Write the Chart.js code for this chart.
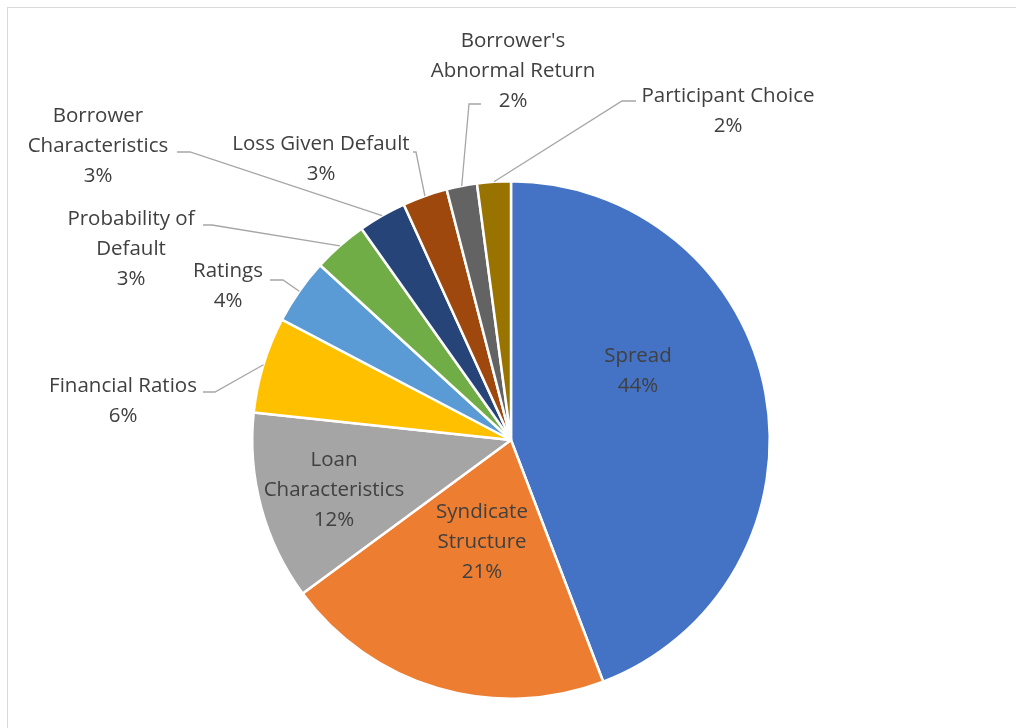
<!DOCTYPE html>
<html>
<head>
<meta charset="utf-8">
<script src="https://cdn.jsdelivr.net/npm/chart.js@4"></script>
<style>
  html, body { margin: 0; padding: 0; background: #fff; }
  #wrap { width: 1016px; height: 728px; position: relative; }
</style>
</head>
<body>
<div id="wrap"><canvas id="myChart" width="1016" height="728"></canvas></div>
<script>
// data
const categories = [
    ['Spread'], ['Syndicate', 'Structure'], ['Loan', 'Characteristics'], ['Financial Ratios'],
    ['Ratings'], ['Probability of', 'Default'], ['Borrower', 'Characteristics'],
    ['Loss Given Default'], ["Borrower's", 'Abnormal Return'], ['Participant Choice']
];
const shares = [44.2, 20.7, 11.8, 6.0, 4.1, 3.4, 3.0, 2.8, 1.9, 2.1];
const sliceColors = ['#4472c4', '#ed7d31', '#a5a5a5', '#ffc000', '#5b9bd5',
                     '#70ad47', '#264478', '#9e480e', '#636363', '#997300'];

// where each label block sits (centre x, first line y) and the leader elbow (null = inside)
const labelPos = [[638, 356], [482, 512], [334, 460], [123, 386], [228, 271],
                  [131, 219], [98, 116], [321, 144], [513, 41], [728, 96]];
const elbows = [null, null, null, [215, 392, 203], [283, 280, 270], [212, 225, 203],
                [190, 152, 177], [416, 152, 413], [469, 104, 481], [622, 101, 636]];

const FONT = '20.5px "Open Sans"';
const LINE_H = 30;

const labelPlugin = {
    id: 'pieLabels',
    beforeDraw(chart) {
        const ctx = chart.ctx;
        ctx.save();
        ctx.fillStyle = '#fff';
        ctx.fillRect(0, 0, chart.width, chart.height);
        ctx.strokeStyle = '#d9d9d9';
        ctx.lineWidth = 1;
        ctx.strokeRect(7.5, 7.5, 1200, 1000);
        ctx.restore();
    },
    afterDraw(chart) {
        const ctx = chart.ctx;
        const total = shares.reduce((a, b) => a + b, 0);
        const arcs = chart.getDatasetMeta(0).data;
        ctx.save();
        arcs.forEach((arc, i) => {
            const el = elbows[i];
            if (el) {
                const mid = (arc.startAngle + arc.endAngle) / 2;
                const sx = arc.x + Math.cos(mid) * arc.outerRadius;
                const sy = arc.y + Math.sin(mid) * arc.outerRadius;
                ctx.strokeStyle = '#a6a6a6';
                ctx.lineWidth = 1.3;
                ctx.beginPath();
                ctx.moveTo(sx, sy);
                ctx.lineTo(el[0], el[1]);
                ctx.lineTo(el[2], el[1]);
                ctx.stroke();
            }
            const lines = categories[i].concat([Math.round(shares[i] / total * 100) + '%']);
            ctx.fillStyle = '#404040';
            ctx.font = FONT;
            ctx.textAlign = 'center';
            ctx.textBaseline = 'middle';
            lines.forEach((t, k) => {
                ctx.fillText(t, labelPos[i][0], labelPos[i][1] + k * LINE_H);
            });
        });
        ctx.restore();
    }
};

const ctx = document.getElementById('myChart').getContext('2d');
new Chart(ctx, {
    type: 'pie',
    data: {
        labels: categories.map(c => c.join(' ')),
        datasets: [{
            data: shares,
            backgroundColor: sliceColors,
            borderColor: '#ffffff',
            borderWidth: 2.5
        }]
    },
    options: {
        responsive: false,
        animation: false,
        layout: { padding: { top: 180, bottom: 28, left: 6, right: 0 } },
        plugins: {
            legend: { display: false },
            tooltip: { enabled: false }
        }
    },
    plugins: [labelPlugin]
});
</script>
</body>
</html>
